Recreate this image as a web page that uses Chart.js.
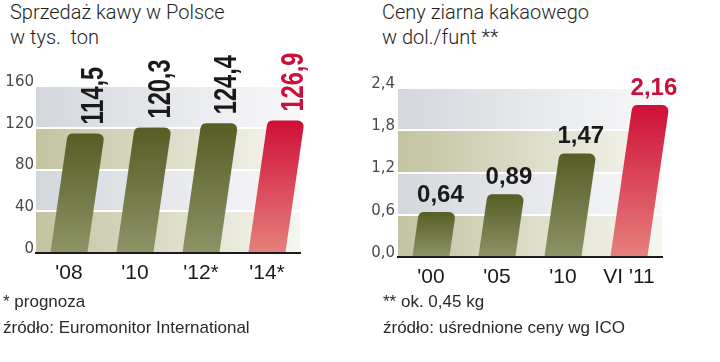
<!DOCTYPE html>
<html><head><meta charset="utf-8">
<script src="https://cdn.jsdelivr.net/npm/chart.js@4.4.1/dist/chart.umd.min.js"></script>
<style>
html,body{margin:0;padding:0;background:#fff}
body{width:720px;height:362px;position:relative;overflow:hidden}
.t{position:absolute;top:0;font-family:Roboto,'Liberation Sans',sans-serif;font-weight:300;font-size:20px;line-height:25px;color:#1e1e1e;white-space:nowrap}
.f{position:absolute;top:289px;font-family:'Liberation Sans',sans-serif;font-size:17px;line-height:26px;color:#2a2a2a;white-space:nowrap}
.c{position:absolute;top:0;width:360px;height:300px}
</style></head>
<body>
<div class="t" style="left:10px">Sprzedaż kawy w Polsce<br>w tys.&nbsp; ton</div>
<div class="t" style="left:382px">Ceny ziarna kakaowego<br>w dol./funt **</div>
<div class="c" style="left:0"><canvas id="c1" width="360" height="300"></canvas></div>
<div class="c" style="left:360px"><canvas id="c2" width="360" height="300"></canvas></div>
<div class="f" style="left:3px">* prognoza<br>źródło: Euromonitor International</div>
<div class="f" style="left:383px">** ok. 0,45 kg<br>źródło: uśrednione ceny wg ICO</div>
<script>
// ---- data ----
const coffeeYears = ["'08", "'10", "'12*", "'14*"];
const coffeeSales = [114.5, 120.3, 124.4, 126.9];
const coffeeTicks = [0, 40, 80, 120, 160];
const coffeeLabels = ["114,5", "120,3", "124,4", "126,9"];

const cocoaYears = ["'00", "'05", "'10", "VI '11"];
const cocoaPrices = [0.64, 0.89, 1.47, 2.16];
const cocoaTicks = [0, 0.6, 1.2, 1.8, 2.4];
const cocoaLabels = ["0,64", "0,89", "1,47", "2,16"];
const cocoaTickLabels = ["0,0", "0,6", "1,2", "1,8", "2,4"];

// ---- styling helpers ----
const OLIVE = ['#565d25', '#8d9365'];
const RED = ['#cf0f38', '#e6807c'];
const SLOPE = 0.145;

function bandsAndBars(cfg) {
  return {
    id: 'bandsAndBars',
    beforeDraw(chart) {
      const ca = chart.chartArea, ys = chart.scales.y, ctx = chart.ctx;
      const t = ys.ticks;
      for (let i = 0; i < t.length - 1; i++) {
        const yb = ys.getPixelForValue(t[i].value);
        const yt = ys.getPixelForValue(t[i + 1].value);
        const g = ctx.createLinearGradient(ca.left, 0, ca.right, 0);
        if (i % 2 === 0) {
          g.addColorStop(0, '#c2c3a0'); g.addColorStop(0.5, '#dcdcc8'); g.addColorStop(1, '#f6f6f2');
        } else {
          g.addColorStop(0, '#d3d7dc'); g.addColorStop(0.5, '#e6e8eb'); g.addColorStop(1, '#f8f8f9');
        }
        ctx.fillStyle = g;
        ctx.fillRect(ca.left, yt, ca.right - ca.left, yb - yt);
      }
    },
    afterDatasetsDraw(chart) {
      const ctx = chart.ctx;
      const meta = chart.getDatasetMeta(0);
      const n = meta.data.length;
      meta.data.forEach((el, i) => {
        const p = el.getProps(['x', 'y', 'base', 'width'], true);
        const h = p.base - p.y;
        const sh = h * SLOPE;
        const hw = p.width / 2;
        const r = 6;
        const bl = [p.x - hw, p.base], br = [p.x + hw, p.base];
        const tl = [p.x - hw + sh, p.y], tr = [p.x + hw + sh, p.y];
        const last = i === n - 1;
        const cols = last ? RED : OLIVE;
        const g = ctx.createLinearGradient(0, p.y, 0, p.base);
        g.addColorStop(0, cols[0]); g.addColorStop(1, cols[1]);
        ctx.save();
        ctx.beginPath();
        ctx.moveTo(bl[0], bl[1]);
        ctx.arcTo(tl[0], tl[1], tr[0], tr[1], r);
        ctx.arcTo(tr[0], tr[1], br[0], br[1], r);
        ctx.lineTo(br[0], br[1]);
        ctx.closePath();
        ctx.fillStyle = g;
        ctx.fill();
        ctx.restore();

        // value label
        const cx = p.x + sh;
        ctx.save();
        ctx.fillStyle = last ? '#cc0e3a' : '#1a1a1a';
        if (cfg.rotated) {
          ctx.translate(cx + 8, p.y - 9);
          ctx.rotate(-Math.PI / 2);
          ctx.scale(0.76, 1);
          ctx.font = "bold 31px 'Liberation Sans', sans-serif";
          ctx.textAlign = 'left';
          ctx.textBaseline = 'middle';
        } else {
          ctx.translate(cx + 3, p.y - 10);
          ctx.font = "bold 24px 'Liberation Sans', sans-serif";
          ctx.textAlign = 'center';
          ctx.textBaseline = 'alphabetic';
        }
        ctx.fillText(cfg.labels[i], 0, 0);
        ctx.restore();
      });
    }
  };
}

function makeChart(id, cats, vals, ticks, tickFmt, labels, rotated, lay) {
  return new Chart(document.getElementById(id), {
    type: 'bar',
    data: { labels: cats, datasets: [{ data: vals, backgroundColor: 'rgba(0,0,0,0)', borderWidth: 0,
      categoryPercentage: 1, barPercentage: 0.56 }] },
    options: {
      responsive: false, animation: false,
      layout: { padding: { top: lay.top, right: lay.right, left: 0, bottom: 0 } },
      plugins: { legend: { display: false }, tooltip: { enabled: false }, title: { display: false } },
      scales: {
        x: {
          grid: { display: false, drawTicks: false },
          border: { display: true, color: '#1a1a1a', width: 2, z: 2 },
          ticks: { color: '#1a1a1a', padding: 8, font: { family: "'Liberation Sans', sans-serif", size: 21 } },
          afterFit(s) { s.height = lay.xh; }
        },
        y: {
          min: ticks[0], max: ticks[ticks.length - 1],
          afterBuildTicks(s) { s.ticks = ticks.map(v => ({ value: v })); },
          grid: { color: '#ffffff', lineWidth: 2, drawTicks: false },
          border: { display: false },
          ticks: { color: '#4a4a4a', padding: lay.tp, labelOffset: -4,
            font: { family: "'DejaVu Sans', sans-serif", size: 15 },
            callback: (v) => tickFmt(v) },
          afterFit(s) { s.width = lay.yw; }
        }
      }
    },
    plugins: [bandsAndBars({ labels, rotated })]
  });
}

makeChart('c1', coffeeYears, coffeeSales, coffeeTicks, v => String(v), coffeeLabels, true,
  { top: 86, right: 60, xh: 47, yw: 36, tp: 2 });
makeChart('c2', cocoaYears, cocoaPrices, cocoaTicks,
  v => cocoaTickLabels[cocoaTicks.findIndex(t => Math.abs(t - v) < 1e-6)] ?? '', cocoaLabels, false,
  { top: 88, right: 58, xh: 43, yw: 38, tp: 3 });
</script>
</body></html>
